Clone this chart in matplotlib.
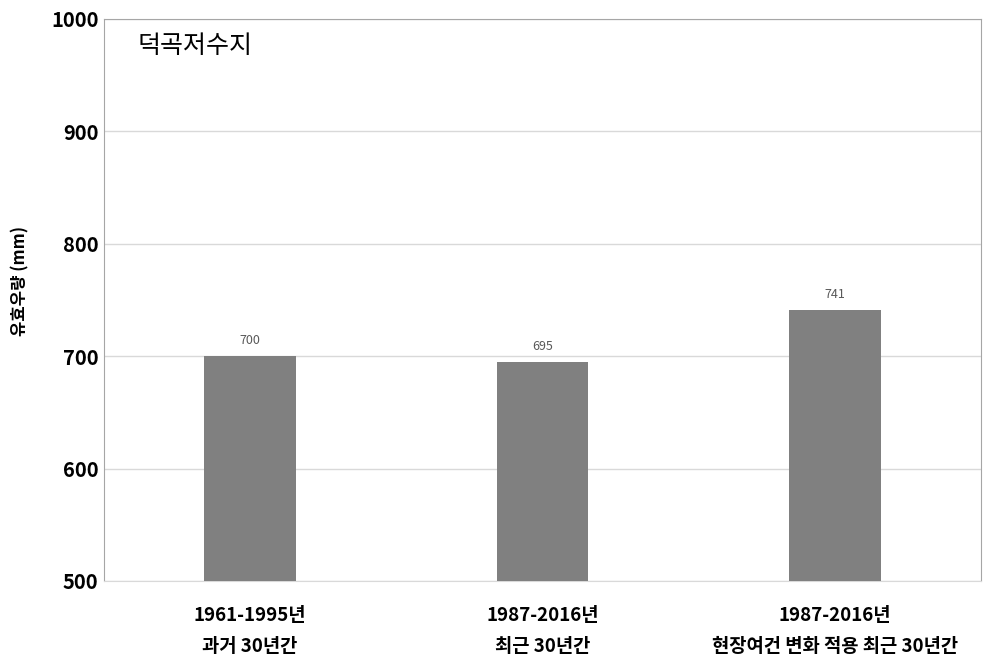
import matplotlib
matplotlib.use('Agg')
import matplotlib.pyplot as plt
import numpy as np

plt.rcParams['font.family'] = ['Noto Sans CJK KR', 'DejaVu Sans']

# data
categories = ['1961-1995년\n과거 30년간',
              '1987-2016년\n최근 30년간',
              '1987-2016년\n현장여건 변화 적용 최근 30년간']
values = [700, 695, 741]
title = '덕곡저수지'
ylabel = '유효우량 (mm)'
yticks = [500, 600, 700, 800, 900, 1000]

fig = plt.figure(figsize=(9.93, 6.57), dpi=100)
ax = fig.add_axes([0.1047, 0.1157, 0.8832, 0.8554])

x = np.arange(len(categories))
bars = ax.bar(x, values, width=0.313, color='#808080', zorder=3)

for xi, v in zip(x, values):
    ax.text(xi, v + 8, str(v), ha='center', va='bottom', fontsize=9, color='#595959')

ax.set_xlim(-0.5, len(categories) - 0.5)
ax.set_ylim(500, 1000)
ax.set_yticks(yticks)
ax.set_yticklabels([str(t) for t in yticks], fontsize=14.5, fontweight='bold')
ax.set_xticks(x)
ax.set_xticklabels(categories, fontsize=13.5, fontweight='bold', linespacing=1.8)
ax.tick_params(axis='both', length=0)
ax.tick_params(axis='y', pad=4)
ax.tick_params(axis='x', pad=18)

ax.grid(axis='y', color='#d9d9d9', linewidth=1, zorder=0)
for s in ['left', 'top', 'right']:
    ax.spines[s].set_color('#a6a6a6')
ax.spines['bottom'].set_color('#d9d9d9')

ax.set_ylabel(ylabel, fontsize=12, fontweight='bold')
ax.yaxis.set_label_coords(-0.085, 0.534)
ax.text(0.038, 0.975, title, transform=ax.transAxes, fontsize=18,
        va='top', ha='left')

fig.savefig('out.png', dpi=100)
